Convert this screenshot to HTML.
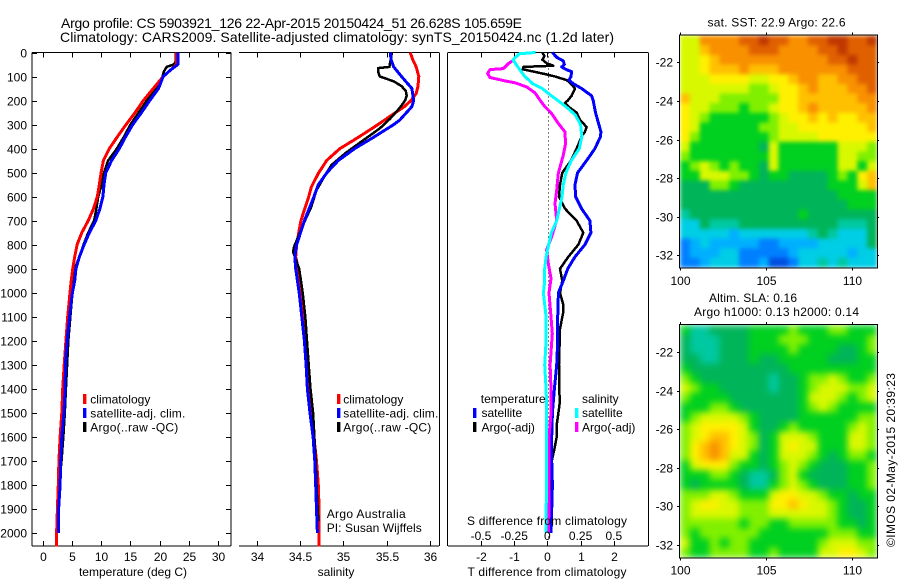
<!DOCTYPE html>
<html lang="en">
<head>
<meta charset="utf-8">
<title>Argo profile</title>
<style>
html,body{margin:0;padding:0;background:#fff;}
svg{display:block;}
text{font-family:"Liberation Sans",sans-serif;font-size:12px;fill:#000;}
.t14{font-size:14px;}
.ml{text-anchor:middle;}
.en{text-anchor:end;}
</style>
</head>
<body>
<svg id="chart" width="900" height="580" viewBox="0 0 900 580" xmlns="http://www.w3.org/2000/svg">
  <defs>
    <filter id="sstSoft" filterUnits="userSpaceOnUse" x="680" y="35.5" width="197" height="232" color-interpolation-filters="sRGB">
      <feGaussianBlur stdDeviation="2.2" edgeMode="duplicate"/>
    </filter>
    <filter id="slaSoft" filterUnits="userSpaceOnUse" x="680" y="325" width="197" height="232.5" color-interpolation-filters="sRGB">
      <feGaussianBlur stdDeviation="3.5" edgeMode="duplicate"/>
    </filter>
  </defs>
  <text class="t14" x="61" y="28" textLength="461" lengthAdjust="spacing">Argo profile: CS 5903921_126 22-Apr-2015 20150424_51 26.628S 105.659E</text>
  <text class="t14" x="60" y="42" textLength="554" lengthAdjust="spacing">Climatology: CARS2009. Satellite-adjusted climatology: synTS_20150424.nc (1.2d later)</text>

  <g id="p1"></g>
  <g id="p2"></g>
  <g id="p3"></g>
  <g id="m1"></g>
  <g id="m2"></g>

  <text class="ml" x="133" y="576">temperature (deg C)</text>
  <text class="ml" x="336" y="576">salinity</text>
  <text class="ml" x="547" y="576" textLength="159" lengthAdjust="spacing">T difference from climatology</text>
  <text class="ml" x="547" y="525" textLength="160" lengthAdjust="spacing">S difference from climatology</text>

  <g>
    <rect x="83" y="394" width="3.4" height="10" fill="#f00"/>
    <rect x="83" y="408" width="3.4" height="10" fill="#00f"/>
    <rect x="83" y="422" width="3.4" height="10" fill="#000"/>
    <text x="90.3" y="403.5">climatology</text>
    <text x="90.3" y="417.5" textLength="95" lengthAdjust="spacing">satellite-adj. clim.</text>
    <text x="90.3" y="431.5" textLength="88" lengthAdjust="spacing">Argo(..raw -QC)</text>
  </g>
  <g>
    <rect x="337" y="394" width="3.4" height="10" fill="#f00"/>
    <rect x="337" y="408" width="3.4" height="10" fill="#00f"/>
    <rect x="337" y="422" width="3.4" height="10" fill="#000"/>
    <text x="343.3" y="403.5">climatology</text>
    <text x="343.3" y="417.5" textLength="95" lengthAdjust="spacing">satellite-adj. clim.</text>
    <text x="343.3" y="431.5" textLength="88" lengthAdjust="spacing">Argo(..raw -QC)</text>
  </g>
  <text x="326.7" y="518" textLength="79" lengthAdjust="spacing">Argo Australia</text>
  <text x="326.7" y="532" textLength="95" lengthAdjust="spacing">PI: Susan Wijffels</text>

  <g>
    <text x="480.7" y="403" textLength="65" lengthAdjust="spacing">temperature</text>
    <text x="582" y="403">salinity</text>
    <rect x="473" y="408" width="3.4" height="10" fill="#00f"/>
    <rect x="473" y="422" width="3.4" height="10" fill="#000"/>
    <rect x="575" y="408" width="3.4" height="10" fill="#0ff"/>
    <rect x="575" y="422" width="3.4" height="10" fill="#f0f"/>
    <text x="481.5" y="417">satellite</text>
    <text x="481.5" y="431.5">Argo(-adj)</text>
    <text x="582" y="417">satellite</text>
    <text x="582" y="431.5">Argo(-adj)</text>
  </g>

  <text class="ml" x="776.5" y="26.5" textLength="138" lengthAdjust="spacing">sat. SST: 22.9 Argo: 22.6</text>
  <text x="709" y="302" textLength="88" lengthAdjust="spacing">Altim. SLA: 0.16</text>
  <text x="694" y="316" textLength="165" lengthAdjust="spacing">Argo h1000: 0.13 h2000: 0.14</text>
  <text transform="translate(895,547) rotate(-90)" textLength="174" lengthAdjust="spacing">©IMOS 02-May-2015 20:39:23</text>
</svg>

<script>
/* ---------- shared axis data ---------- */
const depthTicks = [0,100,200,300,400,500,600,700,800,900,1000,1100,1200,1300,1400,1500,1600,1700,1800,1900,2000];
const tempTicks = [0,5,10,15,20,25,30];
const salTicks = [34,34.5,35,35.5,36];
const salTickLabels = ['34','34.5','35','35.5','36'];
const tDiffTicks = [-2,-1,0,1,2];
const sDiffTickLabels = ['-0.5','-0.25','0','0.25','0.5'];
const sDiffTicks = [-0.5,-0.25,0,0.25,0.5];
const latTicks = [-22,-24,-26,-28,-30,-32];
const lonTicks = [100,105,110];

/* ---------- temperature panel ---------- */
const tClimDepth = [0,50,70,100,150,200,250,300,350,400,450,500,550,600,650,700,750,800,850,900,950,1000,1100,1200,1300,1400,1500,1600,1700,1800,1900,2000,2055];
const tClimValue = [22.9,22.9,22,20.6,18.9,17.2,15.8,14.25,12.8,11.4,10.4,10,9.7,9.35,8.7,7.8,6.7,5.9,5.5,5.15,4.9,4.7,4.3,4,3.7,3.45,3.3,3,2.8,2.7,2.55,2.4,2.4];
const tSatDepth = [0,50,70,100,150,200,250,300,350,400,450,500,550,600,650,700,750,800,850,900,950,1000,1100,1200,1300,1400,1500,1600,1700,1800,1900,2000];
const tSatValue = [23.1,23.1,22,20.6,19.8,18.3,16.9,15.4,14.2,13.1,11.8,10.8,10.5,10.3,9.8,9.1,8,7.1,6.3,5.7,5.5,5.1,4.6,4.2,3.9,3.85,3.65,3.3,3.1,3,2.75,2.7];
const tArgoDepth = [0,40,50,60,80,100,150,200,250,300,350,400,450,500,550,600,650,700,750,800,850,900,1000,1200,1400,1500,1600,1700,1800,1900,2000];
const tArgoValue = [22.7,22.7,22.4,21.2,20.7,20.5,19.5,17.8,16.4,15,13.9,12.7,11.2,10.5,10.1,9.5,9.2,8.8,7.8,7,6.3,5.5,5.1,4.4,4,3.8,3.55,3.25,2.85,2.65,2.75];

/* ---------- salinity panel ---------- */
const sClimDepth = [0,30,60,100,140,170,200,226,260,309,358,400,448,503,560,600,700,800,850,900,1000,1100,1200,1300,1400,1500,1600,1700,1800,1900,2055];
const sClimValue = [35.77,35.8,35.84,35.87,35.86,35.84,35.78,35.7,35.56,35.36,35.15,34.96,34.81,34.71,34.63,34.6,34.51,34.46,34.45,34.48,34.5,34.53,34.55,34.57,34.6,34.62,34.66,34.69,34.71,34.72,34.72];
const sArgoDepth = [0,40,60,65,80,100,120,140,160,180,200,230,275,316,365,420,469,510,573,642,705,809,830,900,1000,1100,1200,1300,1400,1500,1700,1800,1950];
const sArgoValue = [35.56,35.54,35.53,35.4,35.4,35.42,35.58,35.67,35.72,35.73,35.71,35.65,35.54,35.42,35.23,35.02,34.86,34.79,34.69,34.63,34.55,34.43,34.42,34.49,34.53,34.56,34.58,34.6,34.62,34.65,34.68,34.69,34.71];
const sSatDepth = [0,30,60,100,150,200,225,281,300,350,400,450,500,550,600,700,800,850,900,1000,1100,1200,1300,1400,1500,1600,1700,1800,1900,2000];
const sSatValue = [35.54,35.55,35.58,35.67,35.79,35.81,35.79,35.65,35.58,35.36,35.13,34.94,34.81,34.71,34.66,34.55,34.46,34.44,34.45,34.49,34.52,34.55,34.57,34.585,34.615,34.65,34.67,34.68,34.69,34.7];

/* ---------- difference panel ---------- */
const dtSatDepth = [0,20,35,50,60,70,80,100,115,130,150,180,200,250,300,330,350,400,450,500,550,600,650,700,750,800,850,900,950,1000,1100,1200,1300,1400,1500,1600,1700,1800,1900,2000];
const dtSatValue = [0.15,0.28,0.48,0.51,0.43,0.55,0.73,0.71,0.65,0.78,1.03,1.33,1.38,1.45,1.55,1.61,1.6,1.43,1.18,0.91,0.83,0.85,1.03,1.28,1.31,1.13,0.83,0.61,0.48,0.33,0.31,0.31,0.28,0.21,0.15,0.13,0.13,0.15,0.13,0.11];
const dtArgoDepth = [0,15,30,45,55,60,70,75,90,100,115,130,150,180,200,210,230,250,280,310,330,350,400,450,500,550,600,650,700,750,800,850,900,950,1000,1050,1080,1150,1300,1400,1450,1500,1550,1600,1650,1700,1800,1900,2000];
const dtArgoValue = [-0.15,-0.09,-0.15,-0.02,0.18,-0.72,-0.74,-0.57,-0.07,0.23,0.58,0.71,0.83,0.73,0.61,0.53,0.68,0.88,0.98,1.18,1.13,1.03,0.88,0.71,0.45,0.38,0.35,0.53,0.88,1.08,0.93,0.63,0.38,0.45,0.38,0.48,0.48,0.38,0.35,0.35,0.38,0.33,0.28,0.28,0.21,0.13,0.11,0.11,0.08];
const dsSatDepth = [0,5,30,70,100,130,150,180,200,230,260,300,350,400,450,500,550,600,650,700,750,800,850,900,950,1000,1100,1200,1300,1400,1500,1600,1700,1800,1900,2000];
const dsSatValue = [-0.09,-0.21,-0.26,-0.21,-0.17,-0.11,-0.04,0.03,0.08,0.15,0.21,0.25,0.26,0.24,0.18,0.14,0.12,0.11,0.09,0.07,0.03,0.01,-0.01,-0.02,-0.02,-0.03,-0.01,-0.01,-0.02,-0.01,-0.005,-0.005,-0.005,-0.005,-0.01,-0.01];
const dsArgoDepth = [32,46,67,71,87,104,118,126,143,168,198,226,254,295,330,379,427,503,573,628,698,767,822,878,940,1000,1100,1170,1300,1400,1500,1600,1700,1800,1900,2000];
const dsArgoValue = [-0.257,-0.294,-0.332,-0.432,-0.45,-0.432,-0.319,-0.244,-0.156,-0.093,-0.056,-0.018,0.032,0.082,0.132,0.137,0.12,0.082,0.07,0.057,0.07,0.032,-0.006,0.007,0.027,0.012,0.027,0.037,0.02,0.027,0.027,0.012,0.012,0.012,0.012,0.007];

/* ---------- map colour levels and cells ---------- */
const levelColors = ['#0050e0','#0080ff','#00b0ff','#00cde6','#00c8a0','#00b45a','#00d020','#80f000','#d8f800','#fff000','#ffc000','#f89000','#e06000','#c03800'];
const sstLevels = [
[8,8,11,11,11,11,12,12,13,12,12,11,11,12,12,13,13,12,12,13],
[8,8,10,11,11,11,11,12,12,12,11,11,11,11,12,12,13,12,12,12],
[8,8,9,10,11,11,11,11,11,11,11,11,11,11,11,12,12,13,12,12],
[8,8,9,10,10,10,11,10,10,10,11,11,11,11,11,11,11,12,12,12],
[8,8,8,9,9,9,9,8,8,9,9,10,11,11,10,10,11,11,12,12],
[8,8,8,8,8,8,8,7,7,8,9,9,10,11,10,10,10,11,11,12],
[10,8,8,8,7,7,7,7,7,7,9,9,10,10,10,10,10,10,11,11],
[9,8,8,7,7,7,6,7,7,8,9,9,10,11,10,10,10,10,10,11],
[9,8,7,6,6,6,6,6,6,7,8,9,9,10,9,10,9,9,10,10],
[9,8,6,6,6,6,6,6,7,7,8,8,9,9,9,9,9,9,9,10],
[9,7,6,6,6,6,6,6,6,7,8,8,8,8,9,9,9,9,9,9],
[8,6,6,6,6,6,6,6,5,8,6,6,6,6,6,6,8,8,8,7],
[7,6,6,6,6,6,6,6,6,8,6,6,6,6,6,6,8,8,7,7],
[6,7,8,7,6,7,6,6,5,8,6,6,6,6,6,6,8,8,6,8],
[6,6,8,8,8,7,7,6,5,6,6,5,5,5,5,6,7,6,9,10],
[5,5,5,7,7,6,5,5,5,5,5,5,5,5,5,6,6,6,8,10],
[5,5,5,5,5,5,5,5,5,5,5,5,5,5,5,5,6,6,6,6],
[5,5,5,5,5,5,5,5,5,5,5,5,5,5,5,5,5,6,6,6],
[4,5,5,5,5,5,5,5,5,5,5,5,6,5,5,5,5,5,5,5],
[3,3,5,4,4,4,5,5,5,5,5,5,5,5,5,5,4,4,4,5],
[3,3,3,3,3,2,3,3,3,3,3,3,3,4,5,4,3,3,3,5],
[1,2,3,2,2,2,2,2,1,1,2,2,2,2,3,3,3,3,3,5],
[1,2,2,2,3,3,1,1,1,1,1,2,3,3,3,3,3,2,3,3],
[1,1,2,3,3,3,1,1,2,0,0,1,3,3,4,3,4,3,3,3]
];
const slaLevels = [
[6,4,4,5,5,5,5,6,6,6,6,7,6,6,6,7,7,6,6,6],
[5,4,4,4,5,5,5,6,6,6,7,7,7,6,6,6,6,6,6,7],
[5,4,4,4,5,5,5,6,6,6,6,7,6,6,6,6,5,5,6,7],
[5,5,4,4,5,5,5,6,5,5,6,6,6,6,6,5,5,5,6,6],
[6,5,5,5,5,5,5,5,5,5,5,6,6,6,6,6,6,6,6,6],
[7,6,5,5,5,5,5,5,5,4,5,5,6,7,7,8,7,6,6,7],
[8,7,6,6,5,5,5,5,5,4,5,5,6,7,8,8,8,7,7,8],
[7,6,6,6,6,5,5,5,5,5,5,5,6,8,8,8,7,6,7,8],
[6,6,6,7,7,6,5,5,5,5,5,5,6,7,8,7,6,6,6,6],
[6,7,8,8,8,8,7,6,5,5,5,5,6,6,6,6,6,6,7,7],
[7,8,9,9,9,9,8,6,5,5,6,7,6,6,6,6,6,7,8,7],
[7,8,9,10,10,9,8,7,5,6,8,8,8,7,6,6,6,8,8,7],
[7,9,10,11,10,9,8,7,5,6,8,9,8,8,6,6,6,8,8,7],
[7,9,10,11,10,8,8,6,5,6,8,8,8,7,6,5,6,7,7,6],
[6,8,9,9,9,7,6,6,5,6,7,8,7,6,5,5,5,6,6,7],
[6,6,6,7,7,6,5,4,4,5,7,8,6,5,5,5,5,6,6,7],
[6,5,6,6,6,6,5,4,4,6,7,8,7,6,5,5,5,6,6,7],
[7,7,7,8,8,7,6,6,6,8,9,9,8,8,7,6,6,5,6,6],
[7,8,9,9,8,8,7,7,7,9,9,10,9,8,8,7,6,5,5,6],
[7,8,8,8,8,8,7,7,7,8,8,8,8,8,8,7,6,5,5,6],
[7,7,7,7,7,7,6,7,7,6,6,7,7,7,7,7,6,6,5,6],
[7,6,7,7,7,7,7,7,6,6,6,6,6,6,6,7,7,7,6,6],
[8,6,6,7,6,7,7,6,6,6,6,6,6,6,7,8,8,8,7,7],
[7,6,6,7,7,7,7,6,6,7,6,6,6,6,8,8,9,9,8,7]
];

/* ---------- axis functions ---------- */
const NS = 'http://www.w3.org/2000/svg';
function yDepth(d){ return 52.5 + 0.2403 * d; }
function xTemp(t){ return 42.5 + 5.86 * t; }
function xSal(s){ return 256.7 + 86.7 * (s - 34); }
function xTDiff(v){ return 547.4 + 33.2 * v; }
function xSDiff(v){ return 547.4 + 132.8 * v; }
function xLon(m, lon){ return m.x0 + (lon - 100) * m.lonScale; }
function yLat(m, lat){ return m.lat22 + (-22 - lat) * m.latScale; }

function svgEl(tag, parent){
  const el = document.createElementNS(NS, tag);
  parent.appendChild(el);
  return el;
}
function segment(el, x1, y1, x2, y2){
  el.setAttribute('x1', x1);
  el.setAttribute('y1', y1);
  el.setAttribute('x2', x2);
  el.setAttribute('y2', y2);
  el.setAttribute('stroke', '#000');
  el.setAttribute('stroke-width', '1');
  el.setAttribute('shape-rendering', 'crispEdges');
}
function drawProfile(el, depths, values, xFn, color, width){
  const pts = depths.map((d, i) => xFn(values[i]).toFixed(1) + ',' + yDepth(d).toFixed(1));
  el.setAttribute('points', pts.join(' '));
  el.setAttribute('fill', 'none');
  el.setAttribute('stroke', color);
  el.setAttribute('stroke-width', width);
  el.setAttribute('stroke-linejoin', 'round');
  el.setAttribute('shape-rendering', 'crispEdges');
}
function label(el, x, y, txt, cls){
  el.setAttribute('x', x);
  el.setAttribute('y', y);
  el.setAttribute('class', cls);
  el.textContent = txt;
}

/* ---------- temperature panel ---------- */
const p1 = document.getElementById('p1');
const p1Spines = [[32,52.5,231,52.5],[32,546,231,546],[32,52.5,32,546],[231,52.5,231,546]];
p1Spines.forEach(s => {
  const el = svgEl('line', p1);
  segment(el, s[0], s[1], s[2], s[3]);
  
  
});
depthTicks.forEach(d => {
  const y = Math.round(yDepth(d)) + 0.5;
  const left = svgEl('line', p1);
  segment(left, 32, y, 37, y);
  
  
  const right = svgEl('line', p1);
  segment(right, 226, y, 231, y);
  
  
  const t = svgEl('text', p1);
  label(t, 27, y + 4, String(d), 'en');
  
  
});
tempTicks.forEach(v => {
  const x = Math.round(xTemp(v)) + 0.5;
  const top = svgEl('line', p1);
  segment(top, x, 52.5, x, 57.5);
  
  
  const bot = svgEl('line', p1);
  segment(bot, x, 541, x, 546);
  
  
  const t = svgEl('text', p1);
  label(t, x, 561, String(v), 'ml');
  
  
});
const p1Black = svgEl('polyline', p1);
drawProfile(p1Black, tArgoDepth, tArgoValue, xTemp, '#000', 2.5);


const p1Red = svgEl('polyline', p1);
drawProfile(p1Red, tClimDepth, tClimValue, xTemp, '#f00', 3);


const p1Blue = svgEl('polyline', p1);
drawProfile(p1Blue, tSatDepth, tSatValue, xTemp, '#00f', 3);



/* ---------- salinity panel ---------- */
const p2 = document.getElementById('p2');
const p2Spines = [[239,52.5,439,52.5],[239,546,439,546],[439.5,52.5,439.5,546]];
p2Spines.forEach(s => {
  const el = svgEl('line', p2);
  segment(el, s[0], s[1], s[2], s[3]);
  
  
});
salTicks.forEach((v, i) => {
  const x = Math.round(xSal(v)) + 0.5;
  const top = svgEl('line', p2);
  segment(top, x, 52.5, x, 57.5);
  
  
  const bot = svgEl('line', p2);
  segment(bot, x, 541, x, 546);
  
  
  const t = svgEl('text', p2);
  label(t, x, 561, salTickLabels[i], 'ml');
  
  
});
const p2Red = svgEl('polyline', p2);
drawProfile(p2Red, sClimDepth, sClimValue, xSal, '#f00', 3);


const p2Black = svgEl('polyline', p2);
drawProfile(p2Black, sArgoDepth, sArgoValue, xSal, '#000', 2.5);


const p2Blue = svgEl('polyline', p2);
drawProfile(p2Blue, sSatDepth, sSatValue, xSal, '#00f', 3);



/* ---------- difference panel ---------- */
const p3 = document.getElementById('p3');
const p3Spines = [[448,52.5,648,52.5],[448,546,648,546],[447.5,52.5,447.5,546],[648.5,52.5,648.5,546]];
p3Spines.forEach(s => {
  const el = svgEl('line', p3);
  segment(el, s[0], s[1], s[2], s[3]);
  
  
});
const zeroLine = svgEl('line', p3);
segment(zeroLine, 548.5, 52.5, 548.5, 540);
zeroLine.setAttribute('stroke-dasharray', '1 3');


tDiffTicks.forEach(v => {
  const x = Math.round(xTDiff(v)) + 0.5;
  const top = svgEl('line', p3);
  segment(top, x, 52.5, x, 57.5);
  
  
  const bot = svgEl('line', p3);
  segment(bot, x, 541, x, 546);
  
  
  const t = svgEl('text', p3);
  label(t, x, 561, String(v), 'ml');
  
  
});
const p3Black = svgEl('polyline', p3);
drawProfile(p3Black, dtArgoDepth, dtArgoValue, xTDiff, '#000', 2.5);


const p3Blue = svgEl('polyline', p3);
drawProfile(p3Blue, dtSatDepth, dtSatValue, xTDiff, '#00f', 3);


const p3Magenta = svgEl('polyline', p3);
drawProfile(p3Magenta, dsArgoDepth, dsArgoValue, xSDiff, '#f0f', 3);


const p3Cyan = svgEl('polyline', p3);
drawProfile(p3Cyan, dsSatDepth, dsSatValue, xSDiff, '#0ff', 3);


sDiffTicks.forEach((v, i) => {
  const t = svgEl('text', p3);
  label(t, xSDiff(v), 540, sDiffTickLabels[i], 'ml');
  
  
});

/* ---------- maps ---------- */
const mapSST = {g:'m1', filter:'url(#sstSoft)', x0:680, y0:35.5, w:197, h:232, lonScale:17.2, lat22:62.3, latScale:19.3, labelY:285};
const mapSLA = {g:'m2', filter:'url(#slaSoft)', x0:680, y0:325, w:197, h:232.5, lonScale:17.2, lat22:352.3, latScale:19.27, labelY:574.5};
function drawMap(m, levels){
  const g = document.getElementById(m.g);
  const rows = levels.length, cols = levels[0].length;
  const cw = m.w / cols, ch = m.h / rows;
  const cells = svgEl('g', g);
  cells.setAttribute('filter', m.filter);
  
  
  levels.forEach((row, r) => row.forEach((v, c) => {
    const cell = svgEl('rect', cells);
    cell.setAttribute('x', (m.x0 + c * cw).toFixed(2));
    cell.setAttribute('y', (m.y0 + r * ch).toFixed(2));
    cell.setAttribute('width', (cw + 0.4).toFixed(2));
    cell.setAttribute('height', (ch + 0.4).toFixed(2));
    cell.setAttribute('fill', levelColors[v]);
    
    
  }));
  const frame = svgEl('rect', g);
  frame.setAttribute('x', m.x0 - 0.5);
  frame.setAttribute('y', m.y0 - 0.5);
  frame.setAttribute('width', m.w + 1);
  frame.setAttribute('height', m.h + 1);
  frame.setAttribute('fill', 'none');
  frame.setAttribute('stroke', '#000');
  frame.setAttribute('shape-rendering', 'crispEdges');
  
  
  latTicks.forEach(lat => {
    const y = Math.round(yLat(m, lat)) + 0.5;
    const a = svgEl('line', g);
    segment(a, m.x0 - 3, y, m.x0, y);
    
    
    const b = svgEl('line', g);
    segment(b, m.x0 + m.w, y, m.x0 + m.w + 2, y);
    
    
    const t = svgEl('text', g);
    label(t, 673, y + 4, String(lat), 'en');
    
    
  });
  lonTicks.forEach(lon => {
    const x = Math.round(xLon(m, lon)) + 0.5;
    const a = svgEl('line', g);
    segment(a, x, m.y0 + m.h, x, m.y0 + m.h + 3);
    
    
    const b = svgEl('line', g);
    segment(b, x, m.y0 - 3, x, m.y0);
    
    
    const t = svgEl('text', g);
    label(t, x, m.labelY, String(lon), 'ml');
    
    
  });
}
drawMap(mapSST, sstLevels);
drawMap(mapSLA, slaLevels);
</script>
</body>
</html>
